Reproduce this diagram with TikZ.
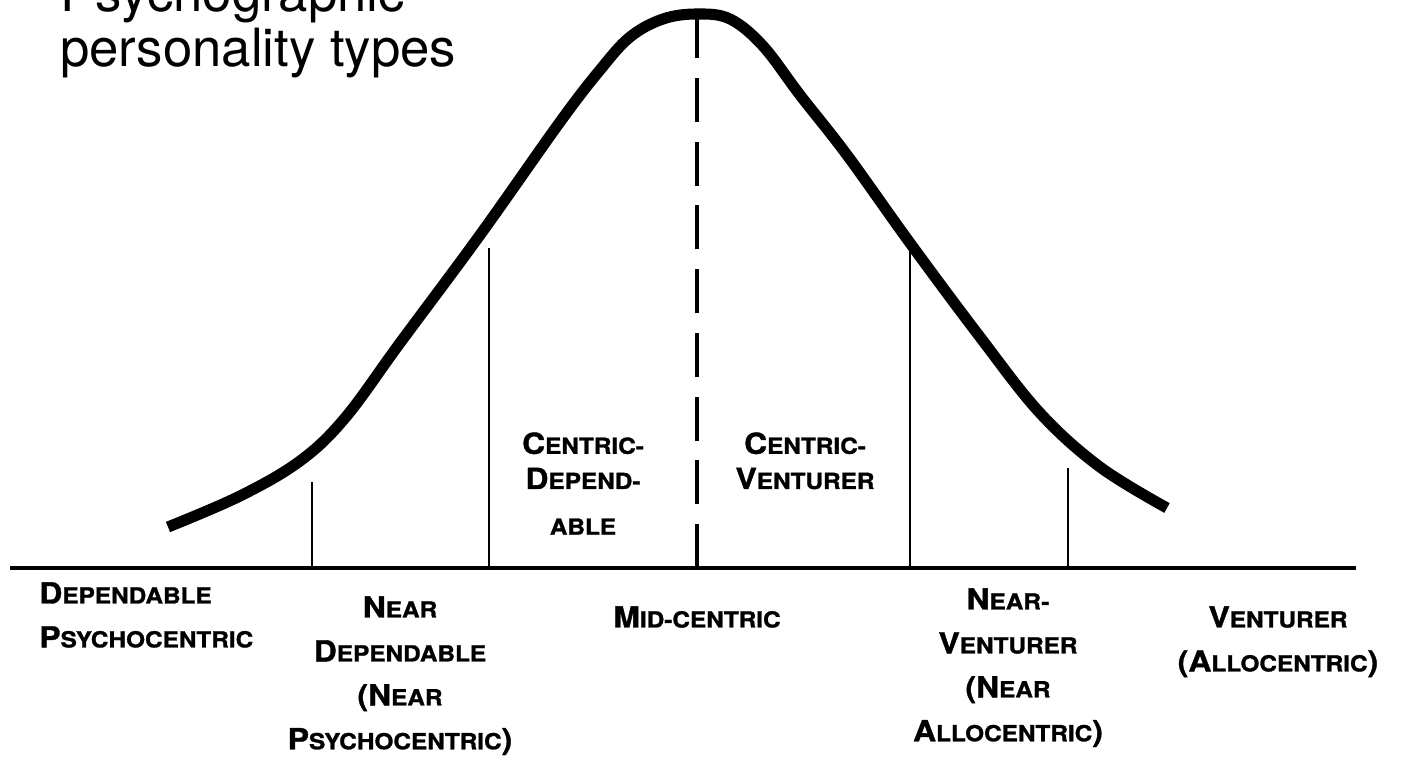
\documentclass[tikz,border=0pt]{standalone}
\usepackage{fontspec}
\setmainfont{TeX Gyre Heros}
\newfontfamily\lblfont{TeX Gyre Heros}[FakeStretch=1.1,FakeBold=1.2]
\newcommand\sm[1]{{\fontsize{12.6}{25}\selectfont#1}}
\tikzset{
  curve/.style={line width=6.3pt},
  axisline/.style={line width=2.8pt},
  tick/.style={line width=1.6pt},
  midline/.style={line width=2.8pt, dash pattern=on 0.88cm off 0.395cm},
  lbl/.style={font=\lblfont\bfseries\fontsize{16.5}{25}\selectfont, inner sep=0pt, anchor=north, align=center},
  lblc/.style={lbl, font=\lblfont\bfseries\fontsize{16.5}{20}\selectfont},
  title/.style={font=\fontsize{30}{31}\selectfont, inner sep=0pt, anchor=base west}
}
\begin{document}
\begin{tikzpicture}[x=0.02cm,y=-0.02cm]
    \useasboundingbox (0,0) rectangle (1404,760);
    \clip (0,0) rectangle (1404,760);
    \node[title] (title1) at (60,12) {Psychographic};
    \node[title] (title2) at (60,67) {personality types};
    \coordinate (axL) at (10,568);
    \coordinate (axR) at (1356,568);
    \coordinate (peak) at (697,14);
    \draw[curve] plot[smooth, tension=0.6] coordinates {(168,527) (240,496) (300,461) (345,418) (400,343) (480,235) (560,122) (600,70) (630,37) (663,19) (697,14) (730,19) (763,46) (800,95) (847,155) (910,243) (980,337) (1040,413) (1100,467) (1167,508)};
    \foreach \x/\top [count=\i] in {312/482,489/248,910/248,1068/468}{
        \coordinate (tk\i) at (\x,\top);
        \draw[tick] (tk\i) -- (tk\i |- axL);
    }
    \draw[midline] (peak |- axL) -- (peak);
    \draw[axisline] (axL) -- (axR);
    \node[lblc] (cdep) at (583,432) {C\sm{ENTRIC-}\\D\sm{EPEND-}\\[6pt]\sm{ABLE}};
    \node[lblc] (cven) at (805,432) {C\sm{ENTRIC-}\\V\sm{ENTURER}};
    \node[lbl, anchor=north west, align=left] (dep) at (39,582) {D\sm{EPENDABLE}\\P\sm{SYCHOCENTRIC}};
    \node[lbl] (neardep) at (400,596) {N\sm{EAR}\\D\sm{EPENDABLE}\\(N\sm{EAR}\\P\sm{SYCHOCENTRIC})};
    \node[lbl] (mid) at (697,606) {M\sm{ID-CENTRIC}};
    \node[lbl] (nearven) at (1008,588) {N\sm{EAR-}\\V\sm{ENTURER}\\(N\sm{EAR}\\A\sm{LLOCENTRIC})};
    \node[lbl] (ven) at (1278,606) {V\sm{ENTURER}\\(A\sm{LLOCENTRIC})};
\end{tikzpicture}
\end{document}
